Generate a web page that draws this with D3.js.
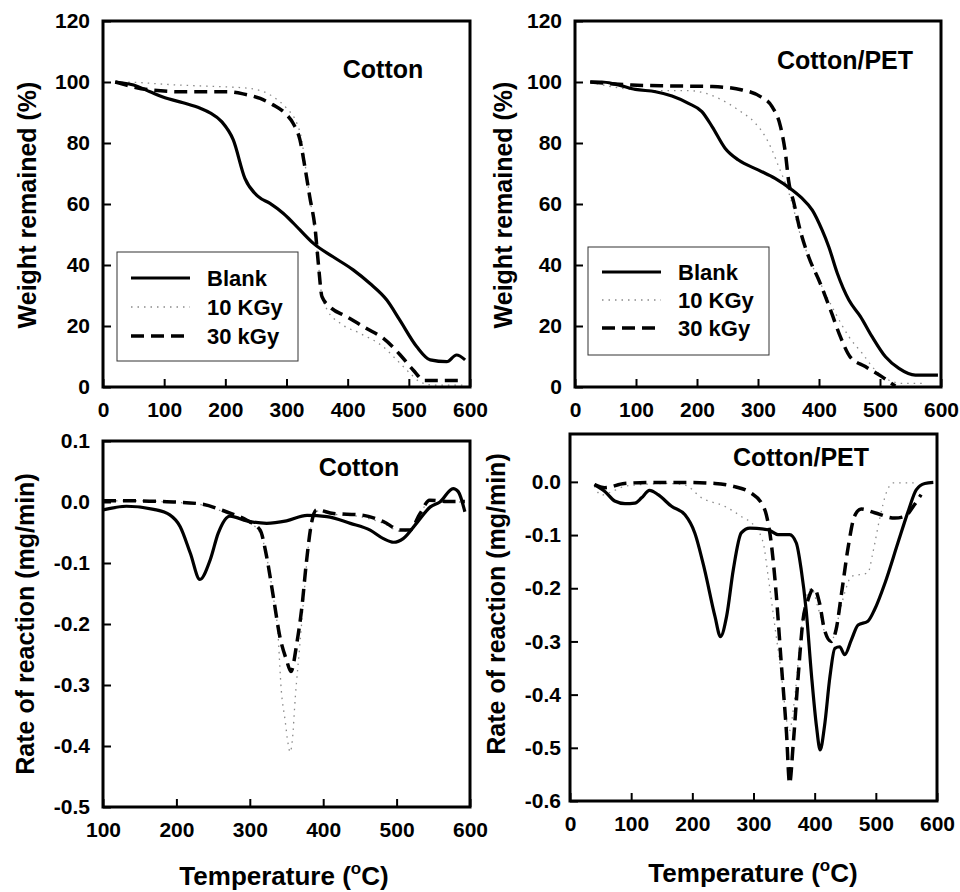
<!DOCTYPE html>
<html>
<head>
<meta charset="utf-8">
<title>TGA / DTG</title>
<style>

body {
  margin: 0;
  background-color: #fff;
}

svg {
  display: block;
  font-family: "Liberation Sans", Arial, Helvetica, sans-serif;
  font-weight: bold;
}

.tick text {
  font-size: 21px;
  font-weight: bold;
  fill: #000;
}

.tick line {
  stroke: #000;
  stroke-width: 2;
}

.frame {
  fill: none;
  stroke: #000;
  stroke-width: 3;
}

.blank { fill: none; stroke: #000; stroke-width: 3.2; }
.k10 { fill: none; stroke: #8a8a8a; stroke-width: 1.3; stroke-dasharray: 1.5, 5; }
.k30 { fill: none; stroke: #000; stroke-width: 3.5; stroke-dasharray: 13, 7; }

</style>
</head>
<body>
<svg width="960" height="892"></svg>
<script src="https://cdn.jsdelivr.net/npm/d3@7"></script>
<script>

// legend / series names
var seriesNames = ["Blank", "10 KGy", "30 kGy"];
var seriesClass = ["blank", "k10", "k30"];

// tick values
var tgaXTicks = [0, 100, 200, 300, 400, 500, 600];
var tgaYTicks = [0, 20, 40, 60, 80, 100, 120];
var dtgCottonXTicks = [100, 200, 300, 400, 500, 600];
var dtgCottonYTicks = [-0.5, -0.4, -0.3, -0.2, -0.1, 0.0, 0.1];
var dtgPetXTicks = [0, 100, 200, 300, 400, 500, 600];
var dtgPetYTicks = [-0.6, -0.5, -0.4, -0.3, -0.2, -0.1, 0.0];

// weight remained (%) vs temperature (°C), cotton
var tgaCottonBlank = [[20,100],[50,99],[77,96.8],[99,95],[131,93.2],[159,91.4],[175,89.9],[194,87],
  [213,81],[232,68.4],[254,62.4],[273,60.2],[295,56.9],[322,51.5],[344,47.1],[376,42.7],[409,38.4],
  [436,34],[464,28.5],[485,22],[513,13.2],[535,8.9],[562,8.3],[578,10.5],[592,8.9]];
var tgaCotton10 = [[20,100],[60,99.8],[105,99.2],[159,98.7],[200,98.4],[240,97.9],[278,95.2],[300,91.4],
  [317,86.4],[325,81],[331,72.2],[338,62.4],[346,51.5],[352,40.6],[358,29.6],[366,25.5],[388,20.9],
  [420,17.6],[458,13.2],[480,8.9],[502,4.5],[518,1.7],[540,0.6],[590,0.6]];
var tgaCotton30 = [[20,100],[77,97.4],[131,96.8],[202,96.8],[229,96.1],[257,94.6],[278,92.5],[298,89.7],
  [311,86.4],[322,81],[330,72.2],[338,62.4],[347,51.5],[352,40.6],[358,29.6],[371,26.3],[398,23.1],
  [431,19.2],[458,16],[486,10.5],[507,5.6],[526,2.1],[581,2.1]];

// weight remained (%) vs temperature (°C), cotton/PET
var tgaPetBlank = [[25,100],[44,100],[66,99.3],[99,97.6],[132,96.8],[159,95.4],[186,93],[208,90.3],
  [225,85.3],[246,78.3],[268,74.4],[301,71.1],[328,68.4],[356,64.6],[372,61.9],[389,58],[405,51.5],
  [416,46],[430,37.3],[449,28.5],[468,23.1],[487,16.5],[509,9.9],[531,6.1],[558,3.9],[595,3.9]];
var tgaPet10 = [[25,100],[77,97.9],[132,97.2],[186,97.2],[214,96.3],[241,94.1],[268,90.8],[296,86.4],
  [312,82.1],[323,77.7],[334,72.2],[345,66.8],[356,60.2],[367,51.5],[383,42.7],[405,32.9],[427,24.2],
  [449,16.5],[471,11],[492,5.6],[514,2.3],[536,1.2],[574,1.2]];
var tgaPet30 = [[25,100],[93,99],[159,98.7],[225,98.5],[274,97.4],[304,95.2],[323,91.9],[337,85.3],
  [345,76.6],[350,67.9],[359,60.2],[369,51.5],[383,42.7],[402,34],[419,25.2],[435,16.5],[451,9.9],
  [476,6.7],[503,3.4],[525,0.3]];

// rate of reaction (mg/min), cotton
var dtgCottonBlank = [[100,-0.013],[132,-0.007],[169,-0.012],[191,-0.021],[205,-0.04],[219,-0.084],
  [232,-0.127],[246,-0.095],[257,-0.051],[273,-0.023],[296,-0.031],[323,-0.035],[350,-0.031],
  [378,-0.022],[405,-0.024],[437,-0.035],[464,-0.046],[482,-0.06],[496,-0.066],[509,-0.06],
  [527,-0.035],[546,-0.008],[559,0],[577,0.022],[584,0.017],[593,-0.016]];
var dtgCotton10 = [[100,0.002],[141,0.002],[187,0],[232,-0.004],[268,-0.018],[296,-0.032],[314,-0.05],
  [323,-0.09],[332,-0.155],[338,-0.21],[343,-0.31],[348,-0.357],[352,-0.395],[355,-0.41],[358,-0.39],
  [362,-0.32],[368,-0.237],[374,-0.15],[380,-0.07],[386,-0.025],[391,-0.015],[414,-0.02],[450,-0.024],
  [482,-0.035],[505,-0.048],[518,-0.047],[532,-0.02],[545,0.002],[568,0],[593,0]];
var dtgCotton30 = [[100,0.002],[141,0.002],[187,0.0005],[232,-0.003],[268,-0.016],[296,-0.03],
  [314,-0.046],[323,-0.09],[332,-0.155],[341,-0.221],[350,-0.259],[356,-0.278],[364,-0.232],
  [371,-0.172],[377,-0.1],[384,-0.035],[391,-0.013],[414,-0.019],[450,-0.021],[482,-0.032],
  [505,-0.046],[518,-0.046],[532,-0.019],[545,0.003],[568,0.001],[593,0.001]];

// rate of reaction (mg/min), cotton/PET
var dtgPetBlank = [[40,-0.005],[57,-0.018],[73,-0.036],[90,-0.041],[106,-0.04],[117,-0.03],[130,-0.016],
  [144,-0.024],[166,-0.046],[188,-0.062],[204,-0.096],[220,-0.165],[237,-0.253],[246,-0.291],
  [256,-0.253],[267,-0.165],[280,-0.096],[294,-0.087],[324,-0.09],[340,-0.099],[359,-0.099],
  [370,-0.115],[378,-0.165],[386,-0.24],[395,-0.366],[403,-0.46],[409,-0.504],[416,-0.46],
  [425,-0.366],[433,-0.313],[441,-0.31],[449,-0.325],[460,-0.297],[471,-0.269],[487,-0.262],
  [498,-0.24],[515,-0.19],[536,-0.115],[553,-0.055],[566,-0.015],[580,-0.003],[594,-0.001]];
var dtgPet10 = [[40,-0.008],[51,-0.025],[65,-0.02],[90,-0.008],[106,-0.006],[160,-0.003],[188,-0.006],
  [215,-0.03],[253,-0.046],[280,-0.065],[302,-0.084],[316,-0.115],[324,-0.178],[335,-0.272],
  [346,-0.366],[354,-0.448],[358,-0.47],[367,-0.41],[376,-0.303],[384,-0.228],[395,-0.2],[405,-0.234],
  [419,-0.291],[427,-0.3],[438,-0.259],[449,-0.209],[460,-0.178],[487,-0.171],[495,-0.134],
  [506,-0.071],[517,-0.021],[528,-0.002],[569,-0.002]];
var dtgPet30 = [[40,-0.005],[57,-0.011],[89,-0.003],[133,-0.001],[188,-0.001],[237,-0.003],[269,-0.009],
  [296,-0.021],[313,-0.04],[321,-0.062],[329,-0.115],[337,-0.209],[345,-0.335],[354,-0.473],
  [359,-0.567],[365,-0.492],[373,-0.366],[381,-0.259],[389,-0.222],[399,-0.2],[408,-0.228],
  [416,-0.278],[427,-0.3],[435,-0.278],[444,-0.209],[455,-0.121],[465,-0.065],[476,-0.051],
  [498,-0.058],[531,-0.068],[547,-0.065],[563,-0.043],[574,-0.024]];

var intFmt = function(d) { return String(d); },
    decFmt = function(d) { return d.toFixed(1); };

var panels = [
  { left: 103, top: 21, width: 367, height: 366, xDomain: [0, 600], yDomain: [0, 120],
    xTicks: tgaXTicks, yTicks: tgaYTicks, fmt: intFmt, yPad: 13,
    series: [tgaCottonBlank, tgaCotton10, tgaCotton30],
    title: "Cotton", titleX: 383, titleY: 78,
    legend: { x: 117, y: 252, w: 181, h: 109, rows: [278, 307, 336], lx: 131, tx: 207 },
    yLabel: "Weight remained (%)", yLabelX: 36, yLabelY: 205 },
  { left: 575, top: 21, width: 366, height: 366, xDomain: [0, 600], yDomain: [0, 120],
    xTicks: tgaXTicks, yTicks: tgaYTicks, fmt: intFmt, yPad: 13,
    series: [tgaPetBlank, tgaPet10, tgaPet30],
    title: "Cotton/PET", titleX: 845, titleY: 69,
    legend: { x: 588, y: 247, w: 181, h: 108, rows: [272, 300, 328], lx: 602, tx: 678 },
    yLabel: "Weight remained (%)", yLabelX: 512, yLabelY: 205 },
  { left: 103, top: 441, width: 367, height: 366, xDomain: [100, 600], yDomain: [-0.5, 0.1],
    xTicks: dtgCottonXTicks, yTicks: dtgCottonYTicks, fmt: decFmt, yPad: 13,
    series: [dtgCottonBlank, dtgCotton10, dtgCotton30],
    title: "Cotton", titleX: 359, titleY: 476,
    yLabel: "Rate of reaction (mg/min)", yLabelX: 34, yLabelY: 624,
    xLabelX: 284, xLabelY: 885 },
  { left: 570, top: 434, width: 367, height: 367, xDomain: [0, 600], yDomain: [-0.6, 0.09],
    xTicks: dtgPetXTicks, yTicks: dtgPetYTicks, fmt: decFmt, yPad: 9,
    series: [dtgPetBlank, dtgPet10, dtgPet30],
    title: "Cotton/PET", titleX: 801, titleY: 466,
    yLabel: "Rate of reaction (mg/min)", yLabelX: 505, yLabelY: 604,
    xLabelX: 753, xLabelY: 882 }
];

var svg = d3.select("svg");

panels.forEach(function(p) {
  var x = d3.scaleLinear().domain(p.xDomain).range([p.left, p.left + p.width]),
      y = d3.scaleLinear().domain(p.yDomain).range([p.top + p.height, p.top]);

  var line = d3.line()
      .x(function(d) { return x(d[0]); })
      .y(function(d) { return y(d[1]); })
      .curve(d3.curveMonotoneX);

  var g = svg.append("g");

  // curves: dotted first, then dashed, solid on top
  [1, 2, 0].forEach(function(i) {
    g.append("path")
        .datum(p.series[i])
        .attr("class", seriesClass[i])
        .attr("d", line);
  });

  g.append("g")
      .attr("transform", "translate(0," + (p.top + p.height) + ")")
      .call(d3.axisBottom(x).tickValues(p.xTicks).tickFormat(intFmt)
        .tickSize(-8).tickSizeOuter(0).tickPadding(15))
      .call(function(a) { a.select(".domain").remove(); });

  g.append("g")
      .attr("transform", "translate(" + p.left + ",0)")
      .call(d3.axisLeft(y).tickValues(p.yTicks).tickFormat(p.fmt)
        .tickSize(-8).tickSizeOuter(0).tickPadding(p.yPad))
      .call(function(a) { a.select(".domain").remove(); });

  g.append("rect")
      .attr("class", "frame")
      .attr("x", p.left)
      .attr("y", p.top)
      .attr("width", p.width)
      .attr("height", p.height);

  g.append("text")
      .attr("x", p.titleX)
      .attr("y", p.titleY)
      .attr("text-anchor", "middle")
      .style("font-size", "25px")
      .text(p.title);

  g.append("text")
      .attr("transform", "translate(" + p.yLabelX + "," + p.yLabelY + ") rotate(-90)")
      .attr("text-anchor", "middle")
      .style("font-size", "25px")
      .text(p.yLabel);

  if (p.xLabelX) {
    var t = g.append("text")
        .attr("x", p.xLabelX)
        .attr("y", p.xLabelY)
        .attr("text-anchor", "middle")
        .style("font-size", "26px");
    t.append("tspan").text("Temperature (");
    t.append("tspan").attr("dy", -11).style("font-size", "17px").text("o");
    t.append("tspan").attr("dy", 11).text("C)");
  }

  if (p.legend) {
    var L = p.legend;
    var lg = g.append("g");
    lg.append("rect")
        .attr("x", L.x).attr("y", L.y)
        .attr("width", L.w).attr("height", L.h)
        .style("fill", "#fff")
        .style("stroke", "#333")
        .style("stroke-width", 1);
    seriesNames.forEach(function(name, i) {
      lg.append("line")
          .attr("class", seriesClass[i])
          .attr("x1", L.lx).attr("x2", L.lx + 59)
          .attr("y1", L.rows[i]).attr("y2", L.rows[i]);
      lg.append("text")
          .attr("x", L.tx)
          .attr("y", L.rows[i] + 8)
          .style("font-size", "22px")
          .text(name);
    });
  }
});

</script>
</body>
</html>
